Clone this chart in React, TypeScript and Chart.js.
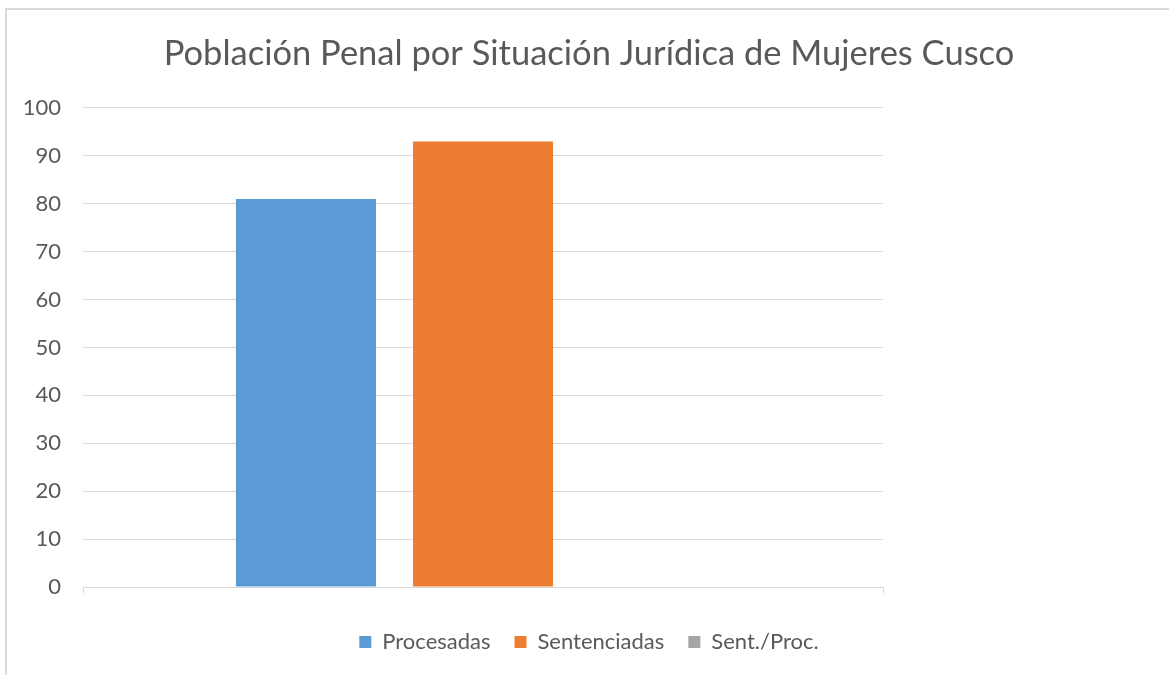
import React, { useEffect, useRef } from "react";
import { Chart, registerables } from "chart.js";

Chart.register(...registerables);

const categories = [""];
const seriesNames = ["Procesadas", "Sentenciadas", "Sent./Proc."];
const procesadas = [81];
const sentenciadas = [93];
const sentProc = [0];
const yTicks = { min: 0, max: 100, step: 10 };
const titleText = "Población Penal por Situación Jurídica de Mujeres Cusco";

const FONT = "Lato, 'Open Sans', sans-serif";

export default function App() {
  const ref = useRef<HTMLCanvasElement | null>(null);
  useEffect(() => {
    if (!ref.current) return;
    const chart = new Chart(ref.current, {
      type: "bar",
      data: {
        labels: categories,
        datasets: [
          { label: seriesNames[0], data: procesadas, backgroundColor: "#5B9BD5" },
          { label: seriesNames[1], data: sentenciadas, backgroundColor: "#ED7D31" },
          { label: seriesNames[2], data: sentProc, backgroundColor: "#A5A5A5" },
        ],
      },
      options: {
        animation: false,
        responsive: false,
        maintainAspectRatio: false,
        datasets: { bar: { categoryPercentage: 0.664, barPercentage: 0.791 } },
        layout: { padding: { left: 9, right: 0, top: 0, bottom: 12 } },
        plugins: {
          tooltip: { enabled: false },
          title: {
            display: true,
            text: titleText,
            color: "#595959",
            font: { family: FONT, size: 34.5, weight: "normal" },
            padding: { top: 33, bottom: 33.5 },
          },
          legend: {
            position: "bottom",
            labels: {
              boxWidth: 12,
              boxHeight: 12,
              padding: 24,
              color: "#595959",
              font: { family: FONT, size: 22 },
            },
          },
        },
        scales: {
          x: {
            offset: true,
            grid: {
              display: true,
              offset: true,
              drawOnChartArea: false,
              drawTicks: true,
              tickLength: 6,
              color: "#d9d9d9",
            },
            border: { display: true, color: "#d9d9d9" },
            ticks: { display: false },
            afterFit: (s: any) => {
              s.height = s.height + 14;
            },
          },
          y: {
            min: yTicks.min,
            max: yTicks.max,
            ticks: {
              stepSize: yTicks.step,
              color: "#595959",
              padding: 22,
              font: { family: FONT, size: 22 },
            },
            grid: { color: "#d9d9d9", drawTicks: false },
            border: { display: false },
            afterFit: (s: any) => {
              s.width = 74;
            },
          },
          yRight: {
            position: "right",
            display: true,
            min: 0,
            max: 100,
            ticks: { display: false },
            grid: { display: false },
            border: { display: false },
            afterFit: (s: any) => {
              s.width = 286;
            },
          },
        },
      },
    });
    return () => chart.destroy();
  }, []);
  return (
    <div style={{ position: "fixed", left: 0, top: 0, width: 1169, height: 675, background: "#fff" }}>
      <canvas ref={ref} width={1169} height={675} style={{ position: "absolute", left: 0, top: 0 }} />
      <div
        style={{
          position: "absolute",
          left: 5,
          top: 8,
          width: 1170,
          height: 670,
          border: "2px solid #d9d9d9",
          boxSizing: "border-box",
          pointerEvents: "none",
        }}
      />
    </div>
  );
}
